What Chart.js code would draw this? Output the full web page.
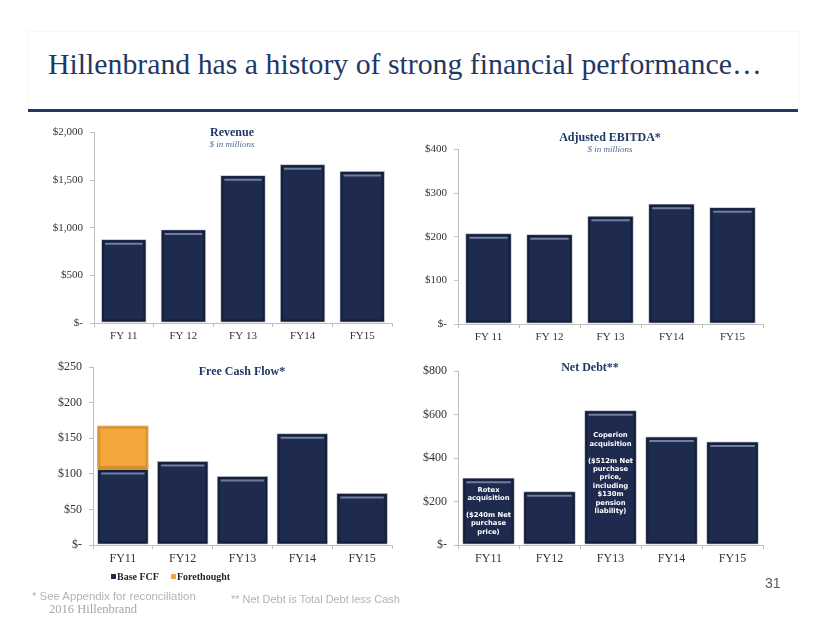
<!DOCTYPE html>
<html>
<head>
<meta charset="utf-8">
<script src="https://cdn.jsdelivr.net/npm/chart.js@4.4.1/dist/chart.umd.min.js"></script>
<style>
  html, body { margin: 0; padding: 0; background: #ffffff; }
  body { width: 830px; height: 623px; position: relative; overflow: hidden; }
  .abs { position: absolute; white-space: nowrap; }
  .box { position: absolute; }
  .ctitle { position: absolute; font-family: "Liberation Serif", serif; font-weight: bold; font-size: 12px; color: #1f3864; line-height: 12px; transform: translateX(-50%); white-space: nowrap; }
  .csub { position: absolute; font-family: "Liberation Serif", serif; font-style: italic; font-size: 9px; color: #4f6a99; line-height: 9px; transform: translateX(-50%); white-space: nowrap; }
</style>
</head>
<body>
<div class="abs" style="left:28px;top:31px;width:770px;height:78px;border:1px dotted #f3f3f3;border-bottom:none;"></div>
<div id="title" class="abs" style="left:48px;top:49px;font-family:'Liberation Serif',serif;font-size:29px;line-height:29px;color:#1f3864;">Hillenbrand has a history of strong financial performance…</div>
<div class="abs" style="left:28px;top:109px;width:770px;height:3px;background:#1f3864;"></div>

<div class="box" id="b1"><canvas id="c1"></canvas></div>
<div class="box" id="b2"><canvas id="c2"></canvas></div>
<div class="box" id="b3"><canvas id="c3"></canvas></div>
<div class="box" id="b4"><canvas id="c4"></canvas></div>

<div class="ctitle" style="left:232px;top:126px;">Revenue</div>
<div class="csub" style="left:232px;top:140px;">$ in millions</div>
<div class="ctitle" style="left:610px;top:131px;">Adjusted EBITDA*</div>
<div class="csub" style="left:610px;top:145px;">$ in millions</div>
<div class="ctitle" style="left:242px;top:365px;">Free Cash Flow*</div>
<div class="ctitle" style="left:590px;top:361px;">Net Debt**</div>

<div id="legend" class="abs" style="left:111px;top:571px;font-family:'Liberation Serif',serif;font-weight:bold;font-size:10px;line-height:12px;color:#262626;"></div>

<div id="fn1" class="abs" style="left:32px;top:590px;font-family:'Liberation Sans',sans-serif;font-size:10.5px;line-height:12px;color:#b3b3b3;">* See Appendix for reconciliation</div>
<div id="fn2" class="abs" style="left:231px;top:593px;font-family:'Liberation Sans',sans-serif;font-size:10.5px;line-height:12px;color:#b3b3b3;">** Net Debt is Total Debt less Cash</div>
<div id="fn3" class="abs" style="left:49px;top:603px;font-family:'Liberation Serif',serif;font-size:11px;line-height:12px;color:#a6a6a6;">2016 Hillenbrand</div>
<div class="abs" style="left:765px;top:575px;font-family:'Liberation Sans',sans-serif;font-size:14px;line-height:16px;color:#595959;">31</div>

<script>
// ---------------- DATA ----------------
const categoriesTop = ['FY 11', 'FY 12', 'FY 13', 'FY14', 'FY15'];
const categoriesBottom = ['FY11', 'FY12', 'FY13', 'FY14', 'FY15'];

const revenue = [880, 983, 1553, 1667, 1597];
const adjustedEbitda = [208, 206, 248, 276, 268];
const fcfBase = [107, 118, 97, 157, 73];
const fcfForethought = [61, null, null, null, null];
const netDebt = [310, 247, 620, 499, 476];

const seriesNames = ['Base FCF', 'Forethought'];

const revenueAxis = [0, 2000, 500];     // min, max, step
const ebitdaAxis = [0, 400, 100];
const fcfAxis = [0, 250, 50];
const netDebtAxis = [0, 800, 200];

const netDebtNotes = [
  { index: 0, lines: ['Rotex', 'acquisition', '', '($240m Net', 'purchase', 'price)'] },
  { index: 2, lines: ['Coperion', 'acquisition', '', '($512m Net', 'purchase', 'price,', 'including', '$130m', 'pension', 'liability)'] }
];

// ---------------- STYLE ----------------
const NAVY = '#1e2b4e';
const ORANGE = '#f2a73d';
const AXIS = '#bfbfbf';
const TICK = '#333333';

function fmtDollar(v) {
  if (v === 0) return '$-';
  return '$' + v.toLocaleString('en-US');
}

// Bevel look for bars
const bevelPlugin = {
  id: 'bevel',
  afterDatasetsDraw(chart) {
    const ctx = chart.ctx;
    chart.data.datasets.forEach((ds, di) => {
      const meta = chart.getDatasetMeta(di);
      meta.data.forEach((el, i) => {
        const v = ds.data[i];
        if (v === null || v === undefined) return;
        const p = el.getProps(['x', 'y', 'base', 'width'], true);
        const l = p.x - p.width / 2, r = p.x + p.width / 2;
        const t = Math.min(p.y, p.base), b = Math.max(p.y, p.base);
        ctx.save();
        ctx.strokeStyle = ds.innerEdge;
        ctx.lineWidth = 2;
        ctx.strokeRect(l + 2, t + 2, r - l - 4, b - t - 4);
        if (ds.highlight) {
          ctx.strokeStyle = ds.highlight;
          ctx.lineWidth = 2;
          ctx.beginPath();
          ctx.moveTo(l + 4, t + 4.5);
          ctx.lineTo(r - 4, t + 4.5);
          ctx.stroke();
        }
        ctx.restore();
      });
    });
  }
};

const notesPlugin = {
  id: 'notes',
  afterDatasetsDraw(chart, args, opts) {
    if (!opts || !opts.items) return;
    const ctx = chart.ctx;
    const meta = chart.getDatasetMeta(0);
    ctx.save();
    ctx.fillStyle = '#ffffff';
    ctx.font = 'bold 6.8px "DejaVu Sans", sans-serif';
    ctx.textAlign = 'center';
    ctx.textBaseline = 'middle';
    const lh = 8.4;
    opts.items.forEach(item => {
      const el = meta.data[item.index];
      const p = el.getProps(['x', 'y', 'base'], true);
      const n = item.lines.length;
      const cy = (p.y + p.base) / 2 + (opts.shift ? opts.shift[item.index] || 0 : 0);
      const y0 = cy - (n - 1) * lh / 2;
      item.lines.forEach((s, k) => {
        if (s) ctx.fillText(s, p.x, y0 + k * lh);
      });
    });
    ctx.restore();
  }
};

function makeChart(boxId, canvasId, geom, labels, datasets, axis, fontSize, barPct, extraPlugins) {
  const box = document.getElementById(boxId);
  box.style.left = geom.left + 'px';
  box.style.top = geom.top + 'px';
  box.style.width = geom.width + 'px';
  box.style.height = geom.height + 'px';
  return new Chart(document.getElementById(canvasId), {
    type: 'bar',
    data: {
      labels: labels,
      datasets: datasets.map(d => Object.assign({
        barPercentage: barPct,
        categoryPercentage: 1.0,
        borderWidth: 1,
        borderSkipped: false
      }, d))
    },
    options: {
      responsive: true,
      maintainAspectRatio: false,
      animation: false,
      devicePixelRatio: 1,
      layout: { padding: { left: 0, right: geom.pr, top: geom.pt, bottom: 0 } },
      plugins: Object.assign({ legend: { display: false }, tooltip: { enabled: false } }, geom.plugins || {}),
      scales: {
        x: {
          stacked: true,
          grid: { display: true, drawOnChartArea: false, offset: true, tickLength: 4, color: AXIS },
          border: { color: AXIS, width: 1 },
          ticks: { color: TICK, padding: 3, font: { family: '"Liberation Serif", serif', size: fontSize } },
          afterFit: s => { s.height = geom.xh; }
        },
        y: {
          stacked: true,
          min: axis[0], max: axis[1],
          grid: { display: true, drawOnChartArea: false, tickLength: 4, color: AXIS },
          border: { color: AXIS, width: 1 },
          ticks: { stepSize: axis[2], color: TICK, padding: 7, font: { family: '"Liberation Serif", serif', size: fontSize }, callback: v => fmtDollar(v) },
          afterFit: s => { s.width = geom.yw; }
        }
      }
    },
    plugins: [bevelPlugin].concat(extraPlugins || [])
  });
}

const navyDs = (label, data) => ({ label, data, backgroundColor: NAVY, borderColor: '#a9afbd', innerEdge: '#151f3a', highlight: 'rgba(125,140,175,0.85)' });

makeChart('b1', 'c1', { left: 20, top: 119, width: 390, height: 234, pr: 18, pt: 10, yw: 74, xh: 30 },
  categoriesTop, [navyDs('Revenue', revenue)], revenueAxis, 11, 0.76);

makeChart('b2', 'c2', { left: 400, top: 136, width: 383, height: 218, pr: 20, pt: 10, yw: 58, xh: 30 },
  categoriesTop, [navyDs('Adjusted EBITDA', adjustedEbitda)], ebitdaAxis, 11, 0.76);

makeChart('b3', 'c3', { left: 20, top: 353, width: 390, height: 222, pr: 18, pt: 10, yw: 73, xh: 30 },
  categoriesBottom, [
    navyDs(seriesNames[0], fcfBase),
    { label: seriesNames[1], data: fcfForethought, backgroundColor: ORANGE, borderColor: '#c98a30', innerEdge: '#d8902f', highlight: null }
  ], fcfAxis, 12, 0.86);

makeChart('b4', 'c4', { left: 400, top: 357, width: 383, height: 218, pr: 20, pt: 10, yw: 58, xh: 30,
    plugins: { notes: { items: netDebtNotes, shift: { 2: -4 } } } },
  categoriesBottom, [navyDs('Net Debt', netDebt)], netDebtAxis, 12, 0.86, [notesPlugin]);

// Legend (HTML) for FCF
const legend = document.getElementById('legend');
const swatches = [NAVY, ORANGE];
seriesNames.forEach((name, i) => {
  const sw = document.createElement('span');
  sw.style.cssText = 'display:inline-block;width:5px;height:5px;margin-right:1px;vertical-align:1px;background:' + swatches[i] + ';';
  const tx = document.createElement('span');
  tx.textContent = name;
  tx.style.marginRight = i === 0 ? '12px' : '0';
  legend.appendChild(sw);
  legend.appendChild(tx);
});

// Fit text widths to reference widths
function fitWidth(id, target) {
  const el = document.getElementById(id);
  const w = el.getBoundingClientRect().width;
  const fs = parseFloat(getComputedStyle(el).fontSize);
  el.style.fontSize = (fs * target / w).toFixed(2) + 'px';
}
fitWidth('title', 714);
fitWidth('fn1', 164);
fitWidth('fn2', 169);
fitWidth('fn3', 88);
</script>
</body>
</html>
